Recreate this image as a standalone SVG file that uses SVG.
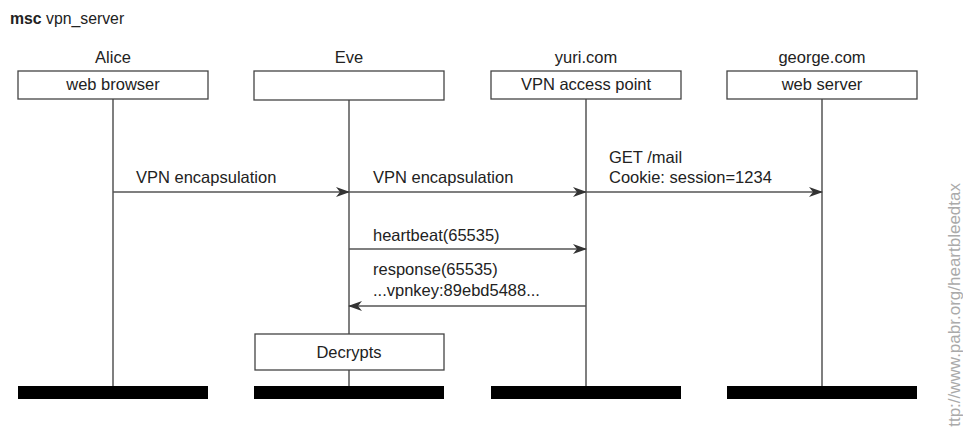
<svg xmlns="http://www.w3.org/2000/svg" width="963" height="439" viewBox="0 0 963 439">
<defs>
<marker id="arr" viewBox="0 0 14 10" refX="13" refY="5" markerWidth="14" markerHeight="10" markerUnits="userSpaceOnUse" orient="auto">
<path d="M0,0 L14,5 L0,10 L4,5 Z" fill="#333"/>
</marker>
</defs>
<style>
text{font-family:"Liberation Sans",Arial,sans-serif;font-size:16.5px;fill:#222}
.c{text-anchor:middle}
.box{fill:#fff;stroke:#444;stroke-width:1.3}
.life{stroke:#555;stroke-width:1.5}
.bar{fill:#000}
.msg{stroke:#555;stroke-width:1.5;fill:none;marker-end:url(#arr)}
.hdr{font-size:15.8px}
.wm{font-size:17px;fill:#aaa}
</style>
<rect width="963" height="439" fill="#fff"/>
<text class="hdr" x="10" y="24"><tspan font-weight="bold">msc</tspan> vpn_server</text>

<g id="lifelines">
<line class="life" x1="113" y1="99" x2="113" y2="386"/>
<line class="life" x1="349" y1="100" x2="349" y2="334"/>
<line class="life" x1="349" y1="370" x2="349" y2="386"/>
<line class="life" x1="586" y1="99" x2="586" y2="386"/>
<line class="life" x1="822" y1="99" x2="822" y2="386"/>
</g>

<g id="alice">
<text class="c" x="113" y="63">Alice</text>
<rect class="box" x="18" y="71" width="190" height="28"/>
<text class="c" x="113" y="90">web browser</text>
<rect class="bar" x="18" y="386" width="190" height="13"/>
</g>
<g id="eve">
<text class="c" x="349" y="63">Eve</text>
<rect class="box" x="254" y="71" width="190" height="29"/>
<rect class="bar" x="254" y="386" width="190" height="13"/>
</g>
<g id="yuri">
<text class="c" x="586" y="63">yuri.com</text>
<rect class="box" x="491" y="71" width="190" height="28"/>
<text class="c" x="586" y="90">VPN access point</text>
<rect class="bar" x="491" y="386" width="190" height="13"/>
</g>
<g id="george">
<text class="c" x="822" y="63">george.com</text>
<rect class="box" x="727" y="71" width="190" height="28"/>
<text class="c" x="822" y="90">web server</text>
<rect class="bar" x="727" y="386" width="190" height="13"/>
</g>
<g id="decrypts">
<rect class="box" x="255" y="334" width="189" height="36"/>
<text class="c" x="349" y="358">Decrypts</text>
</g>

<g id="connectors">
<line class="msg" x1="113" y1="192" x2="349" y2="192"/>
<text x="136" y="183">VPN encapsulation</text>
<line class="msg" x1="349" y1="192" x2="586" y2="192"/>
<text x="373" y="183">VPN encapsulation</text>
<line class="msg" x1="586" y1="192" x2="822" y2="192"/>
<text x="609" y="163">GET /mail</text>
<text x="609" y="183">Cookie: session=1234</text>
<line class="msg" x1="349" y1="249" x2="586" y2="249"/>
<text x="373" y="241">heartbeat(65535)</text>
<line class="msg" x1="586" y1="306" x2="349" y2="306"/>
<text x="373" y="275">response(65535)</text>
<text x="373" y="296">...vpnkey:89ebd5488...</text>
</g>

<text class="wm" transform="translate(960,183) rotate(-90)" text-anchor="end">ttp://www.pabr.org/heartbleedtax</text>
</svg>
